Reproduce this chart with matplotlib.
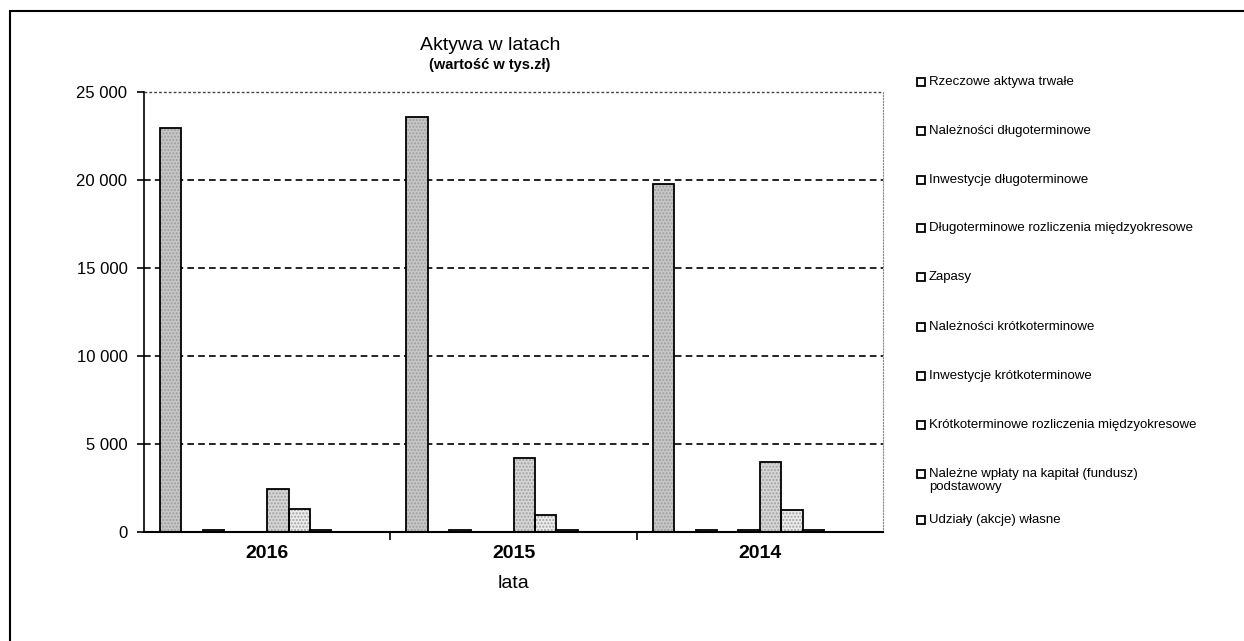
import matplotlib.pyplot as plt
from matplotlib.patches import Rectangle
from matplotlib.ticker import FuncFormatter

plt.rcParams['font.family'] = ['Liberation Sans', 'DejaVu Sans']

lata = ['2016', '2015', '2014']
serie = ['Rzeczowe aktywa trwałe',
         'Należności długoterminowe',
         'Inwestycje długoterminowe',
         'Długoterminowe rozliczenia międzyokresowe',
         'Zapasy',
         'Należności krótkoterminowe',
         'Inwestycje krótkoterminowe',
         'Krótkoterminowe rozliczenia międzyokresowe',
         'Należne wpłaty na kapitał (fundusz)\npodstawowy',
         'Udziały (akcje) własne']
# wartosci dla kazdej serii: [2016, 2015, 2014]
rzeczowe = [22950, 23600, 19750]
nal_dlugo = [0, 0, 0]
inw_dlugo = [100, 100, 100]
rozl_dlugo = [0, 0, 0]
zapasy = [0, 0, 100]
nal_krotko = [2420, 4230, 3980]
inw_krotko = [1300, 950, 1250]
rozl_krotko = [100, 100, 100]
wplaty = [0, 0, 0]
udzialy = [0, 0, 0]
wartosci = [rzeczowe, nal_dlugo, inw_dlugo, rozl_dlugo, zapasy,
            nal_krotko, inw_krotko, rozl_krotko, wplaty, udzialy]

kolory = ['#c6c6c6', '#ffffff', '#f4f4f4', '#ffffff', '#eeeeee',
          '#d6d6d6', '#ececec', '#ffffff', '#ffffff', '#9a9a9a']

W, H = 1244, 641
fig = plt.figure(figsize=(12.44, 6.41), dpi=100)
ax = fig.add_axes([0.1158, 0.170, 0.5940, 0.6865])

w = 0.087
x = range(len(lata))
for i in range(len(serie)):
    pos = [k + (i - 4.5) * w for k in x]
    ax.bar(pos, wartosci[i], w, color=kolory[i], hatch='.....',
           edgecolor='#a0a0a0', linewidth=0, zorder=3)
    ax.bar(pos, wartosci[i], w, fill=False, edgecolor='black',
           linewidth=1.3, zorder=4)

ax.set_xlim(-0.5, 2.5)
ax.set_ylim(0, 25000)
ax.set_yticks(range(0, 25001, 5000))
ax.yaxis.set_major_formatter(FuncFormatter(lambda v, p: f'{int(v):,}'.replace(',', ' ')))
ax.tick_params(axis='y', labelsize=12, length=5, width=1.2, pad=7)
ax.set_xticks(list(x))
ax.set_xticklabels(lata, fontsize=14, fontweight='bold')
ax.tick_params(axis='x', which='major', length=0, pad=9)
ax.set_xticks([0.5, 1.5], minor=True)
ax.tick_params(axis='x', which='minor', length=6, width=1.2)
ax.set_xlabel('lata', fontsize=14, labelpad=10)

for y in range(5000, 20001, 5000):
    ax.axhline(y, color='black', linestyle=(0, (4, 2.5)), linewidth=1.2, zorder=1)
ax.axhline(25000, color='#444444', linestyle=(0, (2, 1.5)), linewidth=1.0, zorder=1, clip_on=False)
ax.spines['left'].set_linewidth(1.2)
ax.spines['bottom'].set_linewidth(1.5)
ax.spines['bottom'].set_zorder(5)
ax.spines['right'].set_color('#888888')
ax.spines['right'].set_linestyle(':')
ax.spines['top'].set_visible(False)

fig.text(0.394, 0.922, 'Aktywa w latach', fontsize=14, ha='center')
fig.text(0.394, 0.893, '(wartość w tys.zł)', fontsize=10.5, ha='center', fontweight='bold')

# legenda rysowana recznie (kwadrat wyrownany do pierwszej linii)
leg_y = [82, 131, 180, 228, 277, 327, 376, 425, 474, 520]
for s, yy in zip(serie, leg_y):
    fig.patches.append(Rectangle((917 / W, 1 - (yy + 4) / H), 8 / W, 8 / H,
                                 transform=fig.transFigure, facecolor='white',
                                 edgecolor='black', linewidth=1.3))
    fig.text(929 / W, 1 - (yy - 6) / H, s, fontsize=9.5, va='top', ha='left',
             linespacing=1.15)

fig.patches.append(Rectangle((0.008, -0.1), 1.2, 1.083, transform=fig.transFigure,
                             fill=False, edgecolor='black', linewidth=1.5))

fig.savefig('out.png', dpi=100)
